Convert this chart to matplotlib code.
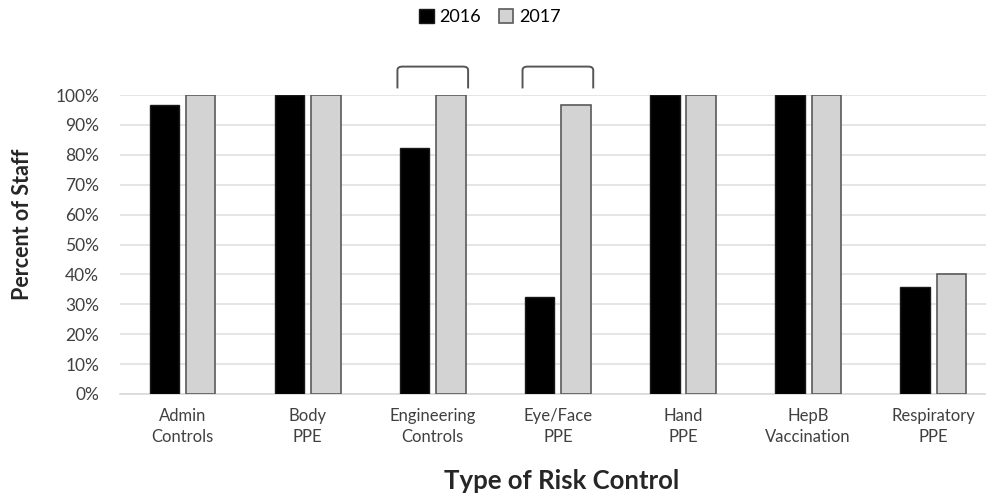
import matplotlib.pyplot as plt
from matplotlib.path import Path
from matplotlib.patches import PathPatch
import numpy as np

plt.rcParams['font.family'] = ['Lato', 'DejaVu Sans']

categories = ['Admin\nControls', 'Body\nPPE', 'Engineering\nControls', 'Eye/Face\nPPE',
              'Hand\nPPE', 'HepB\nVaccination', 'Respiratory\nPPE']
pct_2016 = [96.7, 100, 82.3, 32.3, 100, 100, 35.9]
pct_2017 = [100, 100, 100, 96.7, 100, 100, 40]
bracketed = [2, 3]  # categories marked with a bracket above

fig = plt.figure(figsize=(9.87, 5.0), dpi=100)
ax = fig.add_axes([120 / 987, 106 / 500, 867 / 987, 299 / 500])

x = np.arange(len(categories))
w = 0.235
off = 0.145
ax.bar(x - off, pct_2016, w, color='black', edgecolor='#1a1a1a', linewidth=1, label='2016', zorder=3)
ax.bar(x + off, pct_2017, w, color='#d3d3d3', edgecolor='#5a5a5a', linewidth=1.2, label='2017', zorder=3)

# rounded brackets over the categories that changed significantly
for i in bracketed:
    x0, x1 = i - off - w / 2 - 0.02, i + off + w / 2 + 0.02
    y0, y1, r = 102.2, 109.5, 0.04
    verts = [(x0, y0), (x0, y1 - 1.2), (x0, y1), (x0 + r, y1),
             (x1 - r, y1), (x1, y1), (x1, y1 - 1.2), (x1, y0)]
    codes = [Path.MOVETO, Path.LINETO, Path.CURVE3, Path.CURVE3,
             Path.LINETO, Path.CURVE3, Path.CURVE3, Path.LINETO]
    ax.add_patch(PathPatch(Path(verts, codes), fill=False, edgecolor='#555555',
                           linewidth=1.4, clip_on=False))

ax.set_xlim(-0.5, 6.43)
ax.set_ylim(0, 100)
ax.set_yticks(np.arange(0, 101, 10))
ax.set_yticklabels([f'{v}%' for v in range(0, 101, 10)])
ax.set_xticks(x)
ax.set_xticklabels(categories, linespacing=1.4)
ax.tick_params(axis='both', length=0, labelsize=12, colors='#404040')
ax.tick_params(axis='x', pad=10)
ax.tick_params(axis='y', pad=15, labelsize=12.5)

ax.grid(axis='y', color='#e0e0e0', linewidth=1.2, zorder=0)
for s in ['top', 'right', 'left']:
    ax.spines[s].set_visible(False)
ax.spines['bottom'].set_color('#d9d9d9')
ax.spines['bottom'].set_linewidth(1.2)

fig.text(23 / 987, 1 - 224 / 500, 'Percent of Staff', fontsize=15.5, fontweight='bold',
         color='#262626', ha='center', va='center', rotation=90)
fig.text(562 / 987, 1 - 481 / 500, 'Type of Risk Control', fontsize=18.5, fontweight='bold',
         color='#262626', ha='center', va='center')

fig.legend(loc='center', bbox_to_anchor=(490 / 987, 1 - 17 / 500), ncol=2, frameon=False,
           fontsize=13, handlelength=0.8, handleheight=0.8, handletextpad=0.3,
           columnspacing=1.0)

fig.savefig('out.png', dpi=100)
